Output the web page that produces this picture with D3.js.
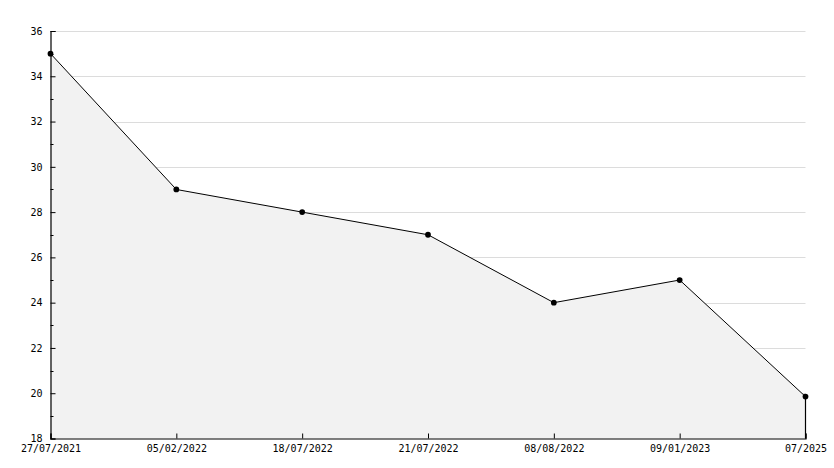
<!DOCTYPE html>
<html><head><meta charset="utf-8">
<script src="https://cdn.jsdelivr.net/npm/d3@7"></script>
<style>
html,body{margin:0;padding:0;background:#fff;}
svg{display:block;}
text{font-family:"DejaVu Sans Mono",monospace;font-size:10px;fill:#000;}
</style></head>
<body>
<svg id="c" width="834" height="468"></svg>
<script>
const categories = ["27/07/2021","05/02/2022","18/07/2022","21/07/2022","08/08/2022","09/01/2023","07/2025"];
const values = [35, 29, 28, 27, 24, 25, 19.85];
const yMajorTicks = [18,20,22,24,26,28,30,32,34,36];
const yMinorTicks = [19,21,23,25,27,29,31,33,35];

const svg = d3.select("#c");
const L = 50.5, R = 805.5, T = 31, B = 438.5;

const x = d3.scalePoint().domain(categories).range([L, R]);
const y = d3.scaleLinear().domain([18, 36]).range([B, T]);

// grid
svg.append("g").selectAll("line").data(yMajorTicks.filter(d => d > 18)).join("line")
  .attr("x1", L).attr("x2", R)
  .attr("y1", d => Math.round(y(d)) + 0.5).attr("y2", d => Math.round(y(d)) + 0.5)
  .attr("stroke", "#dcdcdc").attr("stroke-width", 1);

const pts = categories.map((c, i) => ({c, v: values[i]}));

// area
svg.append("path").datum(pts)
  .attr("d", d3.area().x(d => x(d.c)).y0(B).y1(d => y(d.v)))
  .attr("fill", "#f2f2f2").attr("stroke", "none");

// right edge line
svg.append("line")
  .attr("x1", x(categories[categories.length-1])).attr("x2", x(categories[categories.length-1]))
  .attr("y1", y(values[values.length-1])).attr("y2", B)
  .attr("stroke", "#000").attr("stroke-width", 1.2);

// line
svg.append("path").datum(pts)
  .attr("d", d3.line().x(d => x(d.c)).y(d => y(d.v)))
  .attr("fill", "none").attr("stroke", "#000").attr("stroke-width", 1);

// axes
const yAxis = d3.axisLeft(y).tickValues(yMajorTicks).tickSize(-5).tickPadding(8).tickFormat(d3.format("d"));
const yg = svg.append("g").attr("transform", `translate(${L},0)`).call(yAxis);
yg.select(".domain").attr("stroke", "#000").attr("stroke-width", 1.2);
yg.selectAll(".tick line").attr("stroke", "#000");
yg.selectAll("text").style("font-family", '"DejaVu Sans Mono",monospace').style("font-size", "10px");

svg.append("g").selectAll("line").data(yMinorTicks).join("line")
  .attr("x1", L).attr("x2", L + 3)
  .attr("y1", d => Math.round(y(d)) + 0.5).attr("y2", d => Math.round(y(d)) + 0.5)
  .attr("stroke", "#000");

const xAxis = d3.axisBottom(x).tickSize(-5).tickPadding(6);
const xg = svg.append("g").attr("transform", `translate(0,${B})`).call(xAxis);
xg.select(".domain").attr("stroke", "#000").attr("stroke-width", 1.2);
xg.selectAll(".tick line").attr("stroke", "#000");
xg.selectAll("text").style("font-family", '"DejaVu Sans Mono",monospace').style("font-size", "10px");

// markers
svg.append("g").selectAll("path").data(pts).join("path")
  .attr("transform", d => `translate(${x(d.c)},${y(d.v)})`)
  .attr("d", d3.symbol().type(d3.symbolCircle).size(26))
  .attr("fill", "#000");
</script>
</body></html>
